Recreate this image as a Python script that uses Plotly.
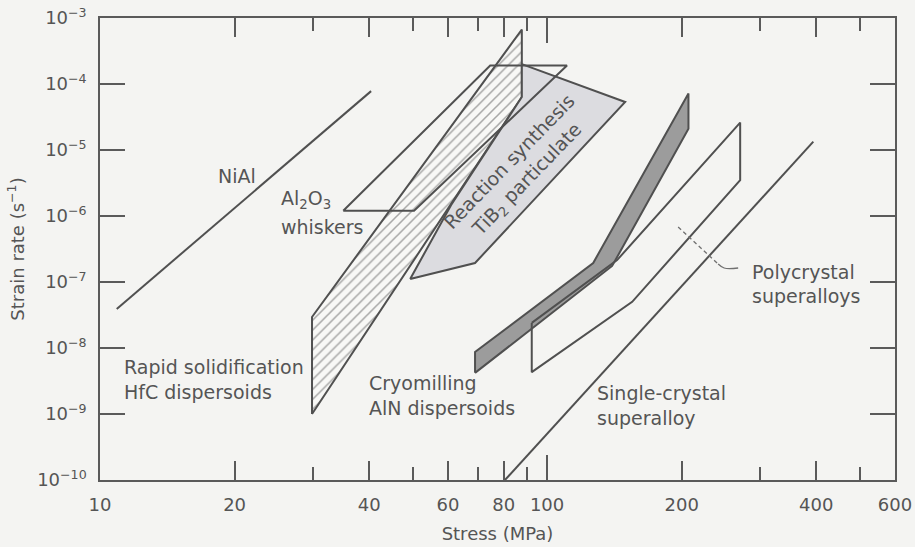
import numpy as np
import plotly.graph_objects as go

# ---------------- data (stress in MPa, strain rate in 1/s) ----------------
nial_stress = [10.9, 40.4]
nial_rate = [3.9e-8, 7.8e-5]

al2o3_stress = [35.0, 50.4, 110.8, 74.6]
al2o3_rate = [1.2e-6, 1.2e-6, 1.9e-4, 1.9e-4]

hfc_stress = [29.8, 29.8, 87.8, 87.8]
hfc_rate = [1.0e-9, 2.95e-8, 6.7e-4, 6.35e-5]

tib2_stress = [49.4, 61.0, 87.8, 87.8, 149.5, 69.0]
tib2_rate = [1.11e-7, 1.47e-6, 6.35e-5, 2.0e-4, 5.34e-5, 1.94e-7]

aln_stress = [69.0, 69.0, 126.8, 207.1, 207.1, 139.8]
aln_rate = [4.2e-9, 8.7e-9, 1.94e-7, 7.2e-5, 2.1e-5, 1.75e-7]

poly_stress = [92.4, 92.4, 155.0, 270.3, 270.3, 143.4]
poly_rate = [2.4e-8, 4.3e-9, 5.0e-8, 3.5e-6, 2.6e-5, 2.15e-7]

sc_stress = [80.5, 394.0]
sc_rate = [1.0e-10, 1.34e-5]

leader_dash_stress = [196.4, 241.3]
leader_dash_rate = [6.8e-7, 1.87e-7]
leader_solid_stress = [241.3, 248.9, 267.5]
leader_solid_rate = [1.87e-7, 1.63e-7, 1.63e-7]

x_tick_vals = [10, 20, 40, 60, 80, 100, 200, 400, 600]
x_tick_text = ["10", "20", "40", "60", "80", "100", "200", "400", "600"]
x_minor_vals = [30, 50, 70, 90, 300, 500]
y_exponents = [-10, -9, -8, -7, -6, -5, -4, -3]

# labels: (text, stress, rate, xanchor, angle)
labels = [
    ("NiAl", 20.2, 4.0e-6, "center", 0),
    ("Al<sub>2</sub>O<sub>3</sub>", 25.1, 1.75e-6, "left", 0),
    ("whiskers", 25.1, 6.8e-7, "left", 0),
    ("Rapid solidification", 11.18, 5.2e-9, "left", 0),
    ("HfC dispersoids", 11.18, 2.18e-9, "left", 0),
    ("Cryomilling", 39.6, 2.92e-9, "left", 0),
    ("AlN dispersoids", 39.6, 1.22e-9, "left", 0),
    ("Polycrystal", 283.6, 1.43e-7, "left", 0),
    ("superalloys", 283.6, 6.14e-8, "left", 0),
    ("Single-crystal", 128.1, 2.1e-9, "left", 0),
    ("superalloy", 128.1, 8.8e-10, "left", 0),
    ("Reaction synthesis<br>TiB<sub>2</sub> particulate", 86.6, 4.8e-6, "center", -46),
]

# ---------------- styling ----------------
BG = "#f4f4f2"
INK = "#505050"
TXT = "#555555"
FONT = "DejaVu Sans"
LW = 2

fig = go.Figure()


def closed(xs, ys):
    return list(xs) + [xs[0]], list(ys) + [ys[0]]


# hatched HfC region
hx, hy = closed(hfc_stress, hfc_rate)
fig.add_trace(go.Scatter(
    x=hx, y=hy, mode="lines", fill="toself",
    fillcolor=BG,
    fillpattern=dict(shape="/", fgcolor="#555555", bgcolor="#f8f8f6", size=7, solidity=0.22),
    line=dict(color=INK, width=LW), hoverinfo="skip"))

# TiB2 grey region
tx, ty = closed(tib2_stress, tib2_rate)
fig.add_trace(go.Scatter(
    x=tx, y=ty, mode="lines", fill="toself", fillcolor="#dcdce0",
    line=dict(color=INK, width=LW), hoverinfo="skip"))

# Al2O3 whiskers outline
ax_, ay_ = closed(al2o3_stress, al2o3_rate)
fig.add_trace(go.Scatter(x=ax_, y=ay_, mode="lines",
                         line=dict(color=INK, width=LW), hoverinfo="skip"))

# AlN dark band
bx, by = closed(aln_stress, aln_rate)
fig.add_trace(go.Scatter(
    x=bx, y=by, mode="lines", fill="toself", fillcolor="#9c9c9c",
    line=dict(color=INK, width=LW), hoverinfo="skip"))

# Polycrystal superalloys outline
px_, py_ = closed(poly_stress, poly_rate)
fig.add_trace(go.Scatter(x=px_, y=py_, mode="lines",
                         line=dict(color=INK, width=LW), hoverinfo="skip"))

# NiAl line
fig.add_trace(go.Scatter(x=nial_stress, y=nial_rate, mode="lines",
                         line=dict(color=INK, width=LW), hoverinfo="skip"))

# Single-crystal line
fig.add_trace(go.Scatter(x=sc_stress, y=sc_rate, mode="lines",
                         line=dict(color=INK, width=LW), hoverinfo="skip"))

# leader
fig.add_trace(go.Scatter(x=leader_dash_stress, y=leader_dash_rate, mode="lines",
                         line=dict(color="#707070", width=1.3, dash="4px,3px"), hoverinfo="skip"))
fig.add_trace(go.Scatter(x=leader_solid_stress, y=leader_solid_rate, mode="lines",
                         line=dict(color="#707070", width=1.3, shape="spline"), hoverinfo="skip"))

for text, sx, sy, anchor, ang in labels:
    fig.add_annotation(
        x=np.log10(sx), y=np.log10(sy), xref="x", yref="y",
        text=text, showarrow=False, xanchor=anchor, yanchor="middle",
        textangle=ang, align="center",
        font=dict(family=FONT, size=19, color=TXT))

axis_common = dict(
    showline=True, linecolor="#5a5a5a", linewidth=1.5,
    ticks="inside", tickcolor="#5a5a5a", tickwidth=1.5,
    mirror="ticks", showgrid=False, zeroline=False, automargin=False,
    tickfont=dict(family=FONT, size=18, color=TXT),
)

fig.update_layout(
    width=915, height=547,
    margin=dict(l=100, r=20, t=18, b=67),
    paper_bgcolor=BG, plot_bgcolor=BG,
    showlegend=False,
    xaxis=dict(
        type="log", range=[1, np.log10(600)],
        tickvals=x_tick_vals, ticktext=x_tick_text, ticklen=19,
        ticklabelstandoff=8,
        minor=dict(tickvals=x_minor_vals, ticklen=13, ticks="inside",
                   tickcolor="#5a5a5a", tickwidth=1.5, showgrid=False),
        title=dict(text="Stress (MPa)", standoff=13,
                   font=dict(family=FONT, size=18, color=TXT)),
        **axis_common),
    xaxis2=dict(
        type="log", range=[1, np.log10(600)], overlaying="x", anchor="y",
        side="bottom", tickvals=[100], ticklen=25, showticklabels=False,
        showline=False, ticks="inside", tickcolor="#5a5a5a", tickwidth=1.5,
        mirror="ticks", showgrid=False, zeroline=False, automargin=False),
    yaxis=dict(
        type="log", range=[-10, -3],
        tickvals=[10.0 ** e for e in y_exponents],
        ticktext=["10<sup>\u2212%d</sup>" % (-e) for e in y_exponents],
        ticklen=25, ticklabelstandoff=8,
        title=dict(text="Strain rate (s<sup>\u22121</sup>)", standoff=8,
                   font=dict(family=FONT, size=18, color=TXT)),
        **axis_common),
)

# invisible trace to activate xaxis2
fig.add_trace(go.Scatter(x=[100], y=[1e-10], xaxis="x2", mode="markers",
                         marker=dict(opacity=0), hoverinfo="skip"))

fig.write_html(
    "out.html",
    config={"displayModeBar": False},
    post_script="document.body.style.margin='0';document.body.style.background='%s';" % BG,
)
